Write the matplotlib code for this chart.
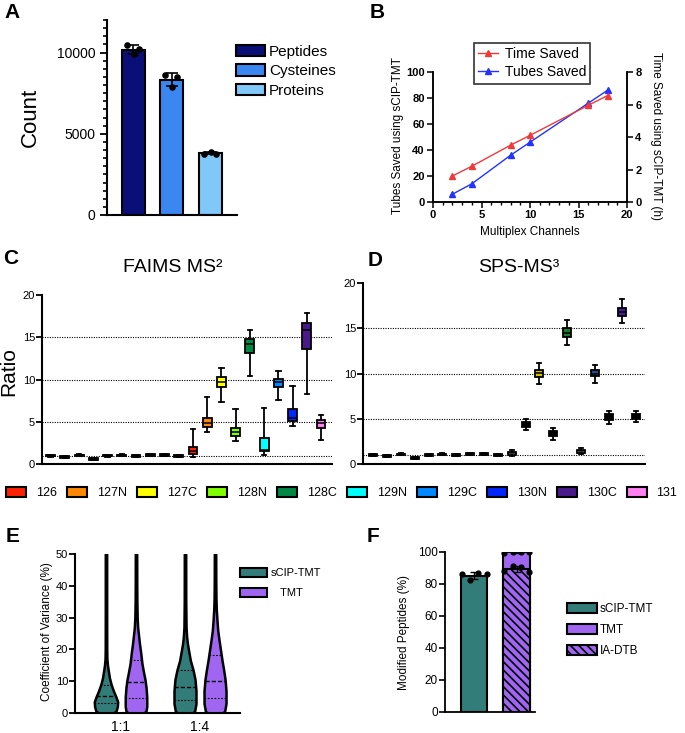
import numpy as np
import matplotlib
matplotlib.use('Agg')
import matplotlib.pyplot as plt
from matplotlib.patches import Patch
from matplotlib.lines import Line2D
from matplotlib.ticker import MultipleLocator

plt.rcParams['font.family'] = ['Liberation Sans', 'DejaVu Sans']
plt.rcParams['hatch.linewidth'] = 1.2
plt.rcParams['axes.linewidth'] = 1.5

# ---------------- data ----------------
# Panel A
a_categories = ['Peptides', 'Cysteines', 'Proteins']
a_points = [[10450, 9900, 10200], [8600, 7900, 8515], [3770, 3875, 3770]]
a_colors = ['#0a0f78', '#3a87f2', '#80c8f8']

# Panel B
b_channels = [2, 4, 8, 10, 16, 18]
b_tubes_saved = [6, 14, 36, 46, 76, 86]
b_time_saved_h = [1.6, 2.2, 3.5, 4.1, 5.95, 6.55]

# Panels C / D (TMT channels; first 10 positions are the reference channels)
tmt_channels = ['126', '127N', '127C', '128N', '128C', '129N', '129C', '130N', '130C', '131']
tmt_colors = ['#ff2200', '#ff8800', '#ffff00', '#80ff00', '#008844',
              '#00ffff', '#0088ff', '#0026ff', '#4b1a8a', '#ff80f0']

c_med = [1.0, 0.85, 1.02, 0.6, 1.0, 1.02, 0.92, 1.1, 1.06, 0.95,
         1.55, 4.8, 9.76, 3.78, 14.2, 1.69, 9.76, 5.47, 15.9, 4.8]
c_q1 = [0.9, 0.75, 0.92, 0.5, 0.9, 0.92, 0.82, 1.0, 0.96, 0.85,
        1.14, 4.41, 9.13, 3.3, 13.15, 1.5, 9.13, 5.08, 13.66, 4.29]
c_q3 = [1.1, 0.95, 1.12, 0.7, 1.1, 1.12, 1.02, 1.2, 1.16, 1.05,
        2.05, 5.43, 10.3, 4.29, 14.84, 3.11, 10.1, 6.46, 16.7, 5.2]
c_lo = [0.88, 0.73, 0.9, 0.48, 0.88, 0.9, 0.8, 0.98, 0.94, 0.83,
        0.87, 3.82, 7.28, 2.76, 10.47, 1.06, 7.52, 4.45, 8.27, 2.83]
c_hi = [1.12, 0.97, 1.14, 0.72, 1.12, 1.14, 1.04, 1.22, 1.18, 1.07,
        4.1, 7.95, 11.4, 6.54, 15.9, 6.61, 10.98, 9.21, 17.87, 5.83]

d_med = [1.03, 0.88, 1.06, 0.62, 0.99, 1.06, 0.95, 1.14, 1.1, 0.99,
         1.17, 4.38, 10.04, 3.32, 14.5, 1.39, 10.0, 5.15, 16.8, 5.26]
d_q1 = [0.93, 0.78, 0.96, 0.52, 0.89, 0.96, 0.85, 1.04, 1.0, 0.89,
        1.02, 4.12, 9.64, 3.07, 14.05, 1.24, 9.67, 4.85, 16.3, 4.96]
d_q3 = [1.13, 0.98, 1.16, 0.72, 1.09, 1.16, 1.05, 1.24, 1.2, 1.09,
        1.31, 4.64, 10.44, 3.61, 15.0, 1.53, 10.36, 5.47, 17.26, 5.55]
d_lo = [0.91, 0.76, 0.94, 0.5, 0.87, 0.94, 0.83, 1.02, 0.98, 0.87,
        0.88, 3.72, 8.83, 2.66, 13.18, 1.09, 9.0, 4.42, 15.6, 4.6]
d_hi = [1.15, 1.0, 1.18, 0.74, 1.11, 1.18, 1.07, 1.26, 1.22, 1.11,
        1.5, 4.93, 11.2, 3.98, 15.95, 1.75, 10.9, 5.84, 18.2, 5.9]
d_colors = ['black'] * 10 + ['white', 'black', '#d2c000', 'black', '#1b7d2a',
                             'white', '#1d4f8f', 'black', '#4e1aa0', 'black']

# Panel E (violin outlines: CV level, relative half-width)
e_groups = ['1:1', '1:4']
e_series = ['sCIP-TMT', 'TMT']
e_colors = ['#327d7a', '#a066f2']
e_scip11_y = [0, 0.5, 2, 3.5, 5, 7, 9, 11, 13, 15, 17, 20, 30, 50]
e_scip11_w = [0.6, 0.85, 0.97, 1.0, 0.86, 0.63, 0.44, 0.3, 0.21, 0.13, 0.08, 0.065, 0.06, 0.06]
e_tmt11_y = [0, 0.5, 2, 5, 8, 10.5, 12.5, 15.5, 19, 22, 25, 27, 30, 35, 40, 50]
e_tmt11_w = [0.62, 0.85, 0.92, 0.92, 0.86, 0.77, 0.66, 0.51, 0.4, 0.29, 0.2, 0.14, 0.1, 0.075, 0.065, 0.06]
e_scip14_y = [0, 0.5, 3, 7, 10.5, 13.5, 16.5, 20, 22, 24, 27, 35, 50]
e_scip14_w = [0.6, 0.82, 0.94, 0.94, 0.86, 0.69, 0.46, 0.29, 0.2, 0.14, 0.09, 0.065, 0.06]
e_tmt14_y = [0, 0.5, 3, 7, 10.5, 13.5, 16.5, 20, 23, 26, 29, 32.5, 36, 42, 50]
e_tmt14_w = [0.6, 0.82, 0.94, 0.94, 0.86, 0.74, 0.6, 0.46, 0.34, 0.23, 0.17, 0.11, 0.08, 0.065, 0.06]
e_medians = [5.3, 9.7, 8.1, 10.0]
e_q1 = [3.0, 4.7, 4.0, 4.7]
e_q3 = [8.7, 16.6, 13.5, 18.2]

# Panel F
f_scip_points = [86.0, 82.2, 87.0, 86.0]
f_tmt_points = [99.6, 99.8, 99.7, 99.9]
f_iadtb_points = [88.0, 91.5, 90.8, 87.2]
f_colors = {'sCIP-TMT': '#327d7a', 'TMT': '#a066f2', 'IA-DTB': '#a066f2'}

# ---------------- figure ----------------
W, H = 685, 733
fig = plt.figure(figsize=(W / 100, H / 100), dpi=100)


def add_ax(x0, y0, x1, y1):
    return fig.add_axes([x0 / W, 1 - y1 / H, (x1 - x0) / W, (y1 - y0) / H])


def fx(x):
    return x / W


def fy(y):
    return 1 - y / H


def panel_label(x, y, s):
    fig.text(fx(x), fy(y), s, fontsize=15, fontweight='bold', ha='center', va='center')


# ---------- Panel A ----------
axA = add_ax(107, 20, 237, 215)
xa = np.arange(len(a_categories))
a_means = [np.mean(p) for p in a_points]
a_sds = [np.std(p, ddof=1) for p in a_points]
axA.bar(xa, a_means, width=0.6, color=a_colors, edgecolor='black', linewidth=1.5, zorder=2)
axA.errorbar(xa, a_means, yerr=a_sds, fmt='none', ecolor='black', elinewidth=1.2,
             capsize=4, capthick=1.2, zorder=3)
for i, pts in enumerate(a_points):
    axA.scatter(i + np.array([-0.17, 0.02, 0.15]), pts, s=14, color='black', zorder=4)
axA.set_xlim(-0.68, 2.7)
axA.set_ylim(0, 12000)
axA.set_yticks([0, 5000, 10000])
axA.yaxis.set_minor_locator(MultipleLocator(500))
axA.tick_params(axis='y', which='major', length=5, width=1.3, labelsize=10)
axA.tick_params(axis='y', which='minor', length=3, width=1.2)
axA.set_xticks([])
for s in ['top', 'right']:
    axA.spines[s].set_visible(False)
fig.text(fx(30), fy(117), 'Count', rotation=90, fontsize=16, ha='center', va='center')
axA.legend([Patch(facecolor=c, edgecolor='black', linewidth=1.5) for c in a_colors], a_categories,
           loc='upper left', bbox_to_anchor=(fx(236), fy(45)), bbox_transform=fig.transFigure,
           frameon=False, fontsize=11, handlelength=1.9, handleheight=0.75,
           handletextpad=0.25, labelspacing=0.35, borderpad=0, borderaxespad=0)
panel_label(12.5, 12.5, 'A')

# ---------- Panel B ----------
axB = add_ax(433, 72, 627, 202)
axB2 = axB.twinx()
blue = '#2233ff'
red = '#f03a3a'
axB.plot(b_channels, b_tubes_saved, '-^', color=blue, lw=1.0, ms=4, zorder=3)
axB2.plot(b_channels, b_time_saved_h, '-^', color=red, lw=1.0, ms=4, zorder=3)
axB.set_xlim(0, 20)
axB.set_ylim(0, 100)
axB2.set_ylim(0, 8)
axB.set_xticks([0, 5, 10, 15, 20])
axB.xaxis.set_minor_locator(MultipleLocator(1))
axB.set_yticks([0, 20, 40, 60, 80, 100])
axB2.set_yticks([0, 2, 4, 6, 8])
for ax in (axB, axB2):
    ax.tick_params(which='major', length=4, width=1.1, labelsize=8, pad=2)
    ax.tick_params(which='minor', length=2.5, width=1.0)
    ax.spines['top'].set_visible(False)
    for s in ax.spines.values():
        s.set_linewidth(1.1)
for lab in axB.get_xticklabels() + axB.get_yticklabels() + axB2.get_yticklabels():
    lab.set_fontweight('bold')
fig.text(fx(530), fy(232), 'Multiplex Channels', fontsize=8.5, ha='center', va='center')
fig.text(fx(398), fy(136), 'Tubes Saved using sCIP-TMT', fontsize=8.5, rotation=90,
         ha='center', va='center')
fig.text(fx(656), fy(136), 'Time Saved using sCIP-TMT (h)', fontsize=8.5, rotation=270,
         ha='center', va='center')
legB = fig.legend([Line2D([], [], color=red, marker='^', lw=1, ms=4),
                   Line2D([], [], color=blue, marker='^', lw=1, ms=4)],
                  ['Time Saved', 'Tubes Saved'], loc='upper left',
                  bbox_to_anchor=(fx(474), fy(43)), fontsize=10, fancybox=False,
                  edgecolor='black', handlelength=1.4, handletextpad=0.5,
                  borderpad=0.3, labelspacing=0.3, borderaxespad=0)
legB.get_frame().set_linewidth(1.2)
panel_label(377, 12.5, 'B')


# ---------- Panels C & D ----------
def draw_boxes(ax, med, q1, q3, lo, hi, faces, width):
    stats = [dict(med=m, q1=a, q3=b, whislo=l, whishi=h, fliers=[])
             for m, a, b, l, h in zip(med, q1, q3, lo, hi)]
    bp = ax.bxp(stats, positions=np.arange(1, len(stats) + 1), widths=width,
                patch_artist=True, showfliers=False, manage_ticks=False,
                boxprops=dict(linewidth=1.3, edgecolor='black'),
                medianprops=dict(color='black', linewidth=1.1),
                whiskerprops=dict(color='black', linewidth=1.3),
                capprops=dict(color='black', linewidth=1.3))
    for patch, fc in zip(bp['boxes'], faces):
        patch.set_facecolor(fc)
        patch.set_zorder(3)
    for key in ('whiskers', 'caps', 'medians'):
        for art in bp[key]:
            art.set_zorder(3)


def style_ratio_axis(ax, left, right):
    ax.set_xlim(left, right)
    ax.set_ylim(0, 20)
    ax.set_yticks([0, 5, 10, 15, 20])
    ax.set_xticks([])
    ax.tick_params(axis='y', length=4, width=1.3, labelsize=8, pad=1)
    for s in ['top', 'right']:
        ax.spines[s].set_visible(False)
    for lvl in [1, 5, 10, 15]:
        ax.axhline(lvl, color='black', ls=(0, (1, 1.2)), lw=0.8, zorder=1)


axC = add_ax(42, 295, 332, 464)
style_ratio_axis(axC, 0.39, 20.77)
draw_boxes(axC, c_med, c_q1, c_q3, c_lo, c_hi, ['black'] * 10 + tmt_colors, 0.62)
fig.text(fx(173), fy(267), 'FAIMS MS²', fontsize=14, ha='center', va='center')
fig.text(fx(9), fy(372), 'Ratio', fontsize=15, rotation=90, ha='center', va='center')
panel_label(11, 258, 'C')

axD = add_ax(363, 283, 645, 464)
style_ratio_axis(axD, 0.26, 20.63)
draw_boxes(axD, d_med, d_q1, d_q3, d_lo, d_hi, d_colors, 0.58)
fig.text(fx(519), fy(267), 'SPS-MS³', fontsize=14, ha='center', va='center')
panel_label(375, 260, 'D')

fig.legend([Patch(facecolor=c, edgecolor='black', linewidth=1.5) for c in tmt_colors],
           tmt_channels, loc='center left', bbox_to_anchor=(fx(6), fy(493)), ncol=10,
           frameon=False, fontsize=9, handlelength=1.6, handleheight=0.9,
           handletextpad=0.8, columnspacing=0.8, borderpad=0, borderaxespad=0)

# ---------- Panel E ----------
axE = add_ax(75, 554, 240, 713)
e_profiles = [(e_scip11_y, e_scip11_w), (e_tmt11_y, e_tmt11_w),
              (e_scip14_y, e_scip14_w), (e_tmt14_y, e_tmt14_w)]
e_offsets = [-0.19, 0.19]
half_scale = 0.148
k = 0
for gi in range(len(e_groups)):
    for si in range(len(e_series)):
        yv, wv = e_profiles[k]
        yv = np.array(yv, dtype=float)
        wv = np.array(wv, dtype=float) * half_scale
        c = gi + 1 + e_offsets[si]
        axE.fill_betweenx(yv, c - wv, c + wv, facecolor=e_colors[si], edgecolor='black',
                          linewidth=1.8, zorder=2, clip_on=True)
        for lvl, ls, lw in [(e_medians[k], (0, (3, 1.5)), 1.0),
                            (e_q1[k], (0, (1.5, 1.5)), 0.8),
                            (e_q3[k], (0, (1.5, 1.5)), 0.8)]:
            hw = np.interp(lvl, yv, wv)
            axE.plot([c - hw, c + hw], [lvl, lvl], color='black', ls=ls, lw=lw, zorder=3)
        k += 1
axE.set_xlim(0.418, 2.506)
axE.set_ylim(0, 50)
axE.set_yticks([0, 10, 20, 30, 40, 50])
axE.set_xticks([1, 2])
axE.set_xticklabels(e_groups, fontsize=10)
axE.tick_params(axis='x', length=0, pad=5)
axE.tick_params(axis='y', length=4, width=1.3, labelsize=8, pad=1)
for s in ['top', 'right']:
    axE.spines[s].set_visible(False)
fig.text(fx(47), fy(632), 'Coefficient of Variance (%)', fontsize=8.5, rotation=90,
         ha='center', va='center')
axE.legend([Patch(facecolor=c, edgecolor='black', linewidth=1.5) for c in e_colors],
           ['sCIP-TMT', '   TMT'], loc='upper left', bbox_to_anchor=(fx(240), fy(568)),
           bbox_transform=fig.transFigure, frameon=False, fontsize=8,
           handlelength=2.4, handleheight=0.9, handletextpad=0.4, labelspacing=0.85,
           borderpad=0, borderaxespad=0)
panel_label(13, 537, 'E')

# ---------- Panel F ----------
axF = add_ax(445, 552, 535, 712)
f_offsets = np.array([-0.29, -0.09, 0.1, 0.3])
scip_mean = np.mean(f_scip_points)
tmt_mean = np.mean(f_tmt_points)
iadtb_mean = np.mean(f_iadtb_points)
axF.bar([0], [scip_mean], width=0.625, color=f_colors['sCIP-TMT'], edgecolor='black',
        linewidth=1.5, zorder=2)
axF.bar([1], [tmt_mean], width=0.625, color=f_colors['TMT'], edgecolor='black',
        linewidth=1.5, zorder=2)
axF.bar([1], [iadtb_mean], width=0.625, color=f_colors['IA-DTB'], edgecolor='black',
        hatch='\\' * 4, linewidth=1.5, zorder=2.5)
for xpos, pts in [(0, f_scip_points), (1, f_tmt_points), (1, f_iadtb_points)]:
    axF.errorbar([xpos], [np.mean(pts)], yerr=[np.std(pts, ddof=1)], fmt='none',
                 ecolor='black', elinewidth=1.0, capsize=3, capthick=1.0, zorder=3)
    axF.scatter(xpos + f_offsets, pts, s=12, color='black', zorder=4)
axF.set_xlim(-0.686, 1.43)
axF.set_ylim(0, 100)
axF.set_yticks([0, 20, 40, 60, 80, 100])
axF.set_xticks([])
axF.tick_params(axis='y', length=4, width=1.2, labelsize=8.5, pad=1)
for s in ['top', 'right']:
    axF.spines[s].set_visible(False)
for s in axF.spines.values():
    s.set_linewidth(1.3)
fig.text(fx(404), fy(633), 'Modified Peptides (%)', fontsize=8.5, rotation=90,
         ha='center', va='center')
axF.legend([Patch(facecolor=f_colors['sCIP-TMT'], edgecolor='black', linewidth=1.5),
            Patch(facecolor=f_colors['TMT'], edgecolor='black', linewidth=1.5),
            Patch(facecolor=f_colors['IA-DTB'], edgecolor='black', linewidth=1.5, hatch='\\' * 4)],
           ['sCIP-TMT', 'TMT', 'IA-DTB'], loc='upper left', bbox_to_anchor=(fx(567), fy(603)),
           bbox_transform=fig.transFigure, frameon=False, fontsize=8.5,
           handlelength=2.5, handleheight=0.9, handletextpad=0.3, labelspacing=0.75,
           borderpad=0, borderaxespad=0)
panel_label(373, 537, 'F')

fig.savefig('out.png', dpi=100)
